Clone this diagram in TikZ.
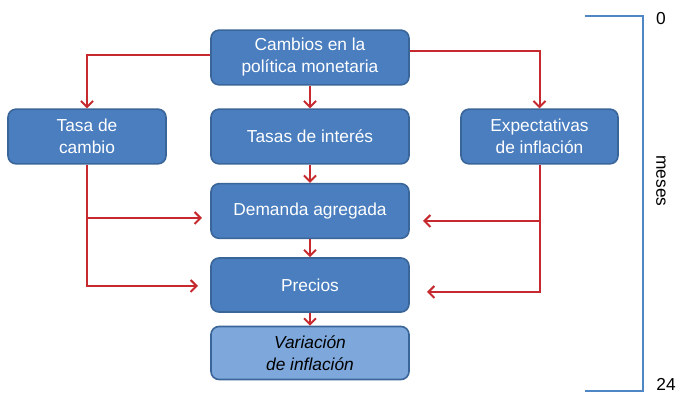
\documentclass[tikz,border=0pt]{standalone}
\usepackage{fontspec}
\setmainfont{Liberation Sans}
\usepackage{tikz}
\usetikzlibrary{arrows.meta}

\definecolor{boxblue}{HTML}{4A7EBF}
\definecolor{boxedge}{HTML}{3A6598}
\definecolor{lightblue}{HTML}{7EA8DC}
\definecolor{arrowred}{HTML}{C62A2F}
\definecolor{scaleblue}{HTML}{4F86C6}

\begin{document}
\begin{tikzpicture}[x=0.75pt,y=-0.75pt,
        every node/.style={font=\fontsize{13}{16.5}\selectfont, align=center},
        stage/.style={draw=boxedge, line width=1.2pt, fill=boxblue, text=white,
            rounded corners=6pt, minimum width=148.5pt, minimum height=41pt, inner sep=2pt},
        result/.style={stage, fill=lightblue, text=black,
            font=\fontsize{13}{16.5}\selectfont\itshape},
        link/.style={draw=arrowred, line width=1.5pt, -{Straight Barb[length=4.5pt,width=9pt]}}]

    \useasboundingbox (0,0) rectangle (676,395);

    % boxes
    \node[stage] (cambios) at (310,57.5) {Cambios en la\\política monetaria};
    \node[stage, minimum width=118.5pt] (tasa) at (87,136.5) {Tasa de\\cambio};
    \node[stage] (interes) at (310,136.5) {Tasas de interés};
    \node[stage, minimum width=117.75pt] (expect) at (539.5,136.5) {Expectativas\\ de inflación};
    \node[stage] (demanda) at (310,211) {Demanda agregada};
    \node[stage, minimum height=40.5pt] (precios) at (310,285) {Precios};
    \node[result, minimum height=39.75pt] (variacion) at (310,353) {Variación\\ de inflación};

    % free ends of the side arrows
    \coordinate (demL) at (202,218);
    \coordinate (preL) at (198,286);
    \coordinate (demR) at (423,221);
    \coordinate (preR) at (427,292);

    % arrows
    \draw[link] ([yshift=1.9pt]cambios.west) -| (tasa.north);
    \draw[link] ([yshift=4.9pt]cambios.east) -| (expect.north);
    \draw[link] (cambios) -- (interes);
    \draw[link] (interes) -- (demanda);
    \draw[link] (demanda) -- (precios);
    \draw[link] (precios) -- (variacion);
    \draw[link] (tasa.south) |- (preL);
    \draw[link] (tasa.south |- demL) -- (demL);
    \draw[link] (expect.south) |- (preR);
    \draw[link] (expect.south |- demR) -- (demR);

    % time scale
    \draw[scaleblue, line width=1.5pt] (585,16) -- (643,16) -- (643,391) -- (585,391);
    \node (cero) at (661,19) {0};
    \node (veinte) at (666,384) {24};
    \node[rotate=-90] (meses) at (661,181) {meses};
\end{tikzpicture}
\end{document}
